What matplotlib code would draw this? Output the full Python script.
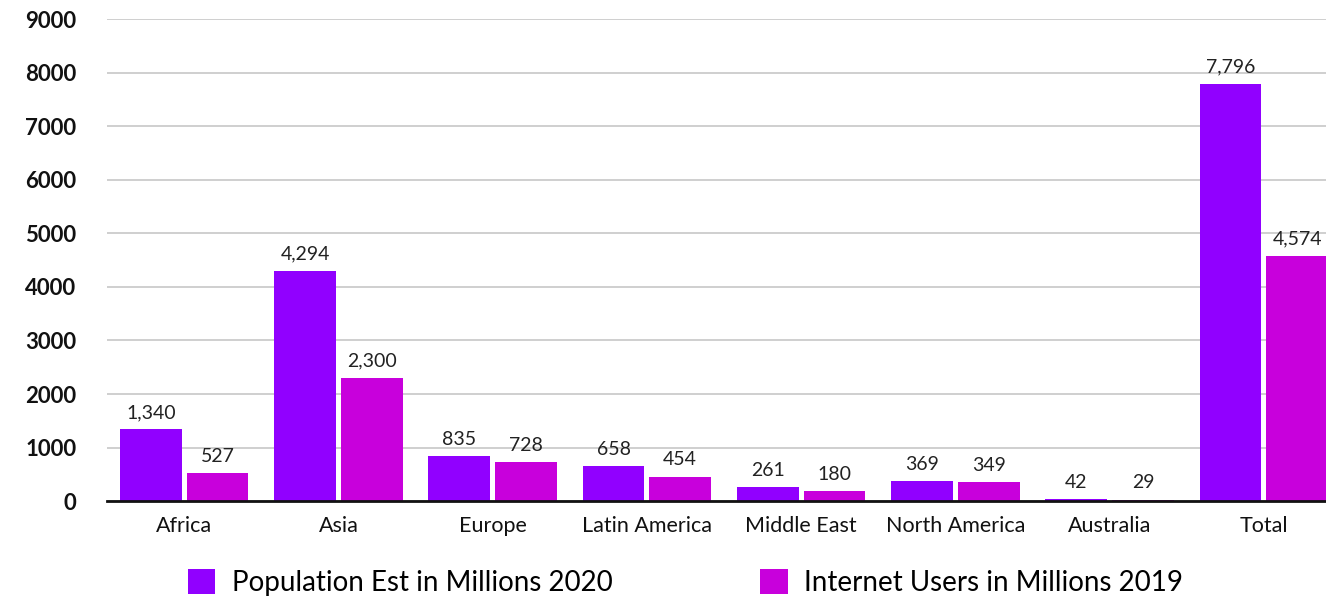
import matplotlib.pyplot as plt
import numpy as np

plt.rcParams['font.family'] = ['Lato', 'DejaVu Sans']

regions = ['Africa', 'Asia', 'Europe', 'Latin America', 'Middle East',
           'North America', 'Australia', 'Total']
population_2020 = [1340, 4294, 835, 658, 261, 369, 42, 7796]
internet_2019 = [527, 2300, 728, 454, 180, 349, 29, 4574]

c_pop = '#9100ff'
c_net = '#c800dc'

fig = plt.figure(figsize=(13.26, 5.98), dpi=100)
ax = fig.add_axes([0.0807, 0.162, 0.9306, 0.806])

x = np.arange(len(regions))
w = 0.40
b1 = ax.bar(x - w / 2 - 0.016, population_2020, w, color=c_pop,
            label='Population Est in Millions 2020', zorder=2)
b2 = ax.bar(x + w / 2 + 0.016, internet_2019, w, color=c_net,
            label='Internet Users in Millions 2019', zorder=2)

for bars in (b1, b2):
    ax.bar_label(bars, labels=[f'{v:,.0f}' for v in bars.datavalues],
                 padding=6, fontsize=14, color='#222222')

ax.set_xlim(-0.5, len(regions) - 0.5)
ax.set_ylim(0, 9000)
ax.set_yticks(np.arange(0, 9001, 1000))
ax.set_xticks(x)
ax.set_xticklabels(regions, fontsize=15.5)
for t in ax.get_yticklabels():
    t.set_fontsize(16)
    t.set_fontweight('bold')
ax.tick_params(axis='both', length=0, colors='#111111')
ax.tick_params(axis='y', pad=22)
ax.tick_params(axis='x', pad=11)

ax.grid(axis='y', color='#cccccc', linewidth=1.3, zorder=0)
for s in ['top', 'right', 'left']:
    ax.spines[s].set_visible(False)
ax.spines['bottom'].set_linewidth(2)
ax.spines['bottom'].set_color('#111111')
ax.spines['bottom'].set_zorder(3)

fig.legend(loc='lower center', bbox_to_anchor=(0.517, -0.038), ncol=2,
           frameon=False, fontsize=20, handlelength=1.0, handleheight=1.0,
           handletextpad=0.6, columnspacing=5.3)

plt.savefig('out.png', dpi=100)
